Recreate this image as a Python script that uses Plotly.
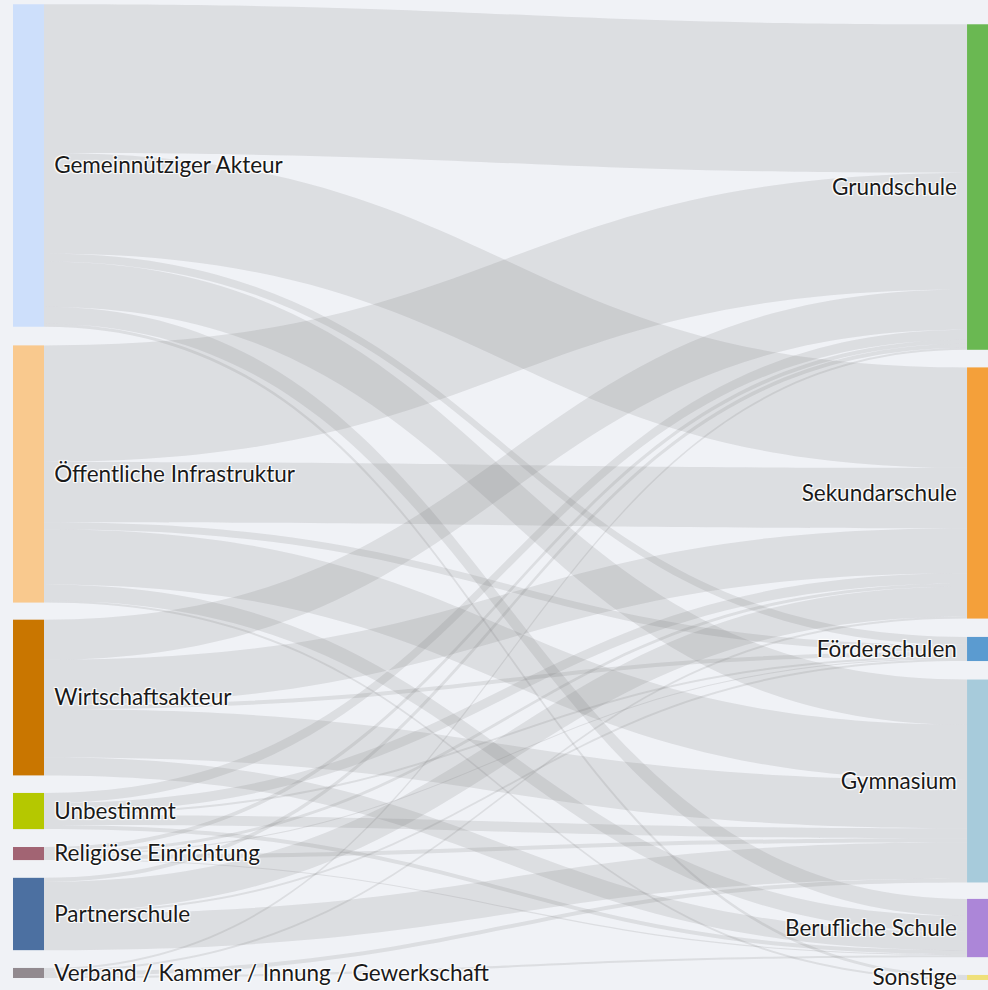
import plotly.graph_objects as go

sources_labels = ["Gemeinnütziger Akteur", "Öffentliche Infrastruktur", "Wirtschaftsakteur",
                  "Unbestimmt", "Religiöse Einrichtung", "Partnerschule",
                  "Verband / Kammer / Innung / Gewerkschaft"]
target_labels = ["Grundschule", "Sekundarschule", "Förderschulen", "Gymnasium",
                 "Berufliche Schule", "Sonstige"]

source_colors = ["#cddffb", "#f9c98e", "#c97600", "#b5c800", "#a26473", "#4c70a1", "#928a8f"]
target_colors = ["#6ab852", "#f4a03a", "#5b9bd0", "#a7cbdb", "#ac86d8", "#efe07a"]

# flows: rows = sources, columns = targets (Grund, Sek, Förder, Gym, Beruf, Sonst)
flow_gemeinnuetzig = [148, 100, 8, 45, 17, 3]
flow_oeffentlich = [116, 60, 7, 55, 16, 2]
flow_wirtschaft = [40, 45, 4, 48, 18, 0]
flow_unbestimmt = [10, 10, 2, 10, 4, 0]
flow_religioes = [4, 3, 1, 4, 1, 0]
flow_partnerschule = [4, 30, 2, 36, 0, 0]
flow_verband = [2, 2, 0, 4, 2, 0]

flows = [flow_gemeinnuetzig, flow_oeffentlich, flow_wirtschaft, flow_unbestimmt,
         flow_religioes, flow_partnerschule, flow_verband]

# node layout (normalized centres within the sankey domain)
src_node_x = [0.0159] * 7
src_node_y = [0.1646, 0.4810, 0.7103, 0.8267, 0.8703, 0.9323, 0.9928]
tgt_node_x = [0.9944] * 6
tgt_node_y = [0.1867, 0.5005, 0.6605, 0.7959, 0.9467, 0.9974]

pad_txt = "\u00a0\u200a"
labels = [pad_txt + s for s in sources_labels] + [t + pad_txt for t in target_labels]
colors = source_colors + target_colors
n_src = len(sources_labels)

src, tgt, val = [], [], []
for i, row in enumerate(flows):
    for j, v in enumerate(row):
        if v > 0:
            src.append(i)
            tgt.append(n_src + j)
            val.append(v)

fig = go.Figure(go.Sankey(
    arrangement="fixed",
    node=dict(
        label=labels,
        color=colors,
        pad=18,
        thickness=31,
        line=dict(width=0),
        x=src_node_x + tgt_node_x,
        y=src_node_y + tgt_node_y,
    ),
    link=dict(
        source=src,
        target=tgt,
        value=val,
        color="rgba(110,110,110,0.15)",
    ),
    textfont=dict(family="Lato", size=22.5, color="#1a1a1a"),
))

fig.update_layout(
    width=988,
    height=990,
    margin=dict(l=13, r=0, t=5, b=10),
    paper_bgcolor="#f0f2f6",
    plot_bgcolor="#f0f2f6",
    font=dict(family="Lato"),
)

fig.write_html("out.html", config={"displayModeBar": False},
               post_script="document.body.style.margin='0';")
